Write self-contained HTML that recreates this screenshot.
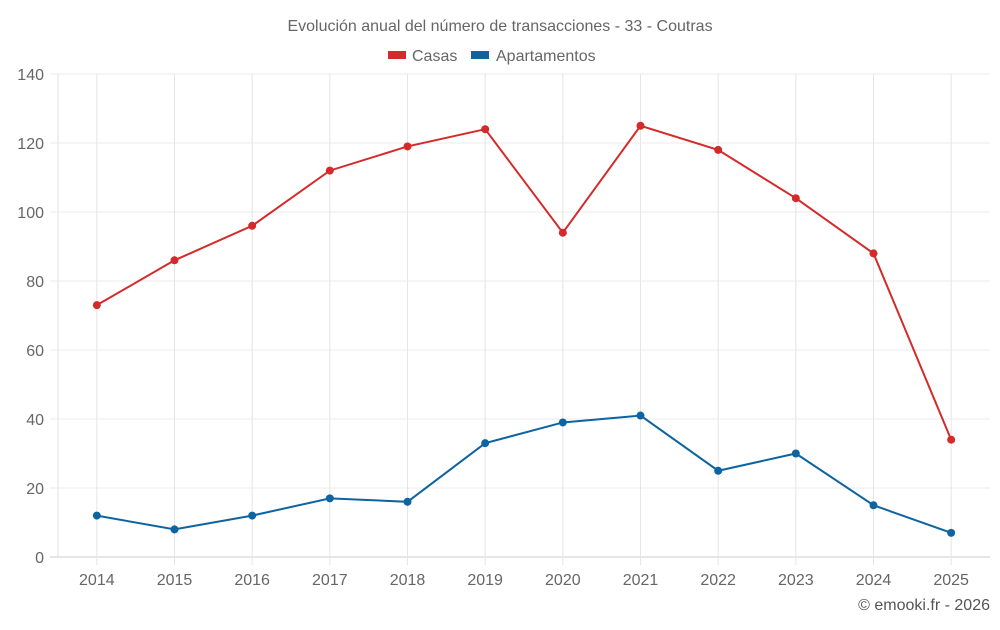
<!DOCTYPE html>
<html><head><meta charset="utf-8"><style>
body{margin:0;background:#fff;font-family:"Liberation Sans",sans-serif;}
svg text{font-family:"Liberation Sans",sans-serif;}
</style></head><body>
<svg id="chart" width="1000" height="625">
<text x="500" y="31" text-anchor="middle" font-size="16" fill="#666">Evolución anual del número de transacciones - 33 - Coutras</text>
<g>
<g><rect x="388" y="51" width="18" height="8" fill="#d42a2a"/><text x="412" y="61" font-size="16" fill="#666">Casas</text></g>
<g><rect x="471" y="51" width="18" height="8" fill="#0d64a0"/><text x="496" y="61" font-size="16" fill="#666">Apartamentos</text></g>
</g>
<g id="grid"></g><g id="axes"></g><g id="series"></g>
<text x="990" y="610" text-anchor="end" font-size="16" fill="#555">© emooki.fr - 2026</text>
</svg>
<script>
const categories=["2014","2015","2016","2017","2018","2019","2020","2021","2022","2023","2024","2025"];
const casas=[73,86,96,112,119,124,94,125,118,104,88,34];
const apartamentos=[12,8,12,17,16,33,39,41,25,30,15,7];
const yTicks=[0,20,40,60,80,100,120,140];
const NS="http://www.w3.org/2000/svg";
const L=58,R=990,T=74,B=557,yMax=140;
const bw=(R-L)/categories.length;
const x=i=>L+bw*(i+0.5);
const y=v=>B-(v/yMax)*(B-T);
function mk(t,a,p){const e=document.createElementNS(NS,t);for(const k in a)e.setAttribute(k,a[k]);p.appendChild(e);return e;}
const grid=document.getElementById('grid'),axes=document.getElementById('axes'),ser=document.getElementById('series');
const la=mk('line',{x1:L,x2:L,y1:T,y2:B,stroke:'#e0e0e0'},grid);


yTicks.forEach(v=>{
 const l=mk('line',{x1:L-8,x2:R,y1:y(v),y2:y(v),stroke:v===0?'#ccc':'#ebebeb'},grid);
 
 
 const t=mk('text',{x:44,y:y(v)+6,'text-anchor':'end','font-size':16,fill:'#666'},axes);
 t.textContent=v;
 
 
});
categories.forEach((c,i)=>{
 const l=mk('line',{x1:x(i),x2:x(i),y1:T,y2:B+8,stroke:'#e6e6e6'},grid);
 
 
 const t=mk('text',{x:x(i),y:585,'text-anchor':'middle','font-size':16,fill:'#666'},axes);
 t.textContent=c;
 
 
});
function draw(data,color,name){
 const p=mk('polyline',{points:data.map((v,i)=>x(i)+','+y(v)).join(' '),fill:'none',stroke:color,'stroke-width':2},ser);
 
 
 data.forEach((v,i)=>{
  const c=mk('circle',{cx:x(i),cy:y(v),r:4,fill:color},ser);
  
  
 });
}
draw(casas,'#d42a2a','casas');
draw(apartamentos,'#0d64a0','apartamentos');
</script>
</body></html>
